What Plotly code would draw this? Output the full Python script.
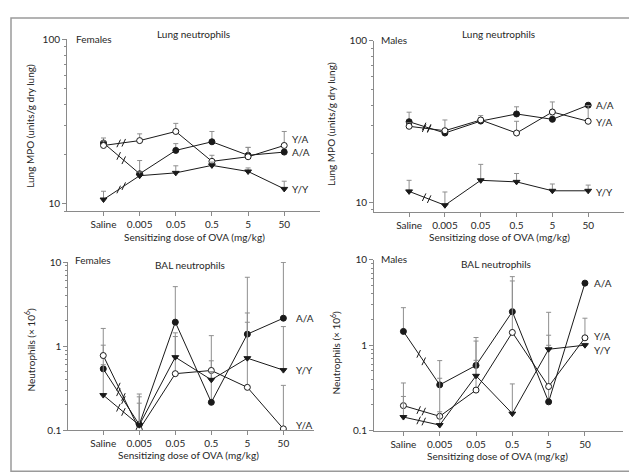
import math
import plotly.graph_objects as go

# ---------------- data ----------------
doses = ["Saline", "0.005", "0.05", "0.5", "5", "50"]
groups = ["A/A", "Y/A", "Y/Y"]

# Lung MPO (units/g dry lung) – females
f_lung_AA = [23.4, 15.2, 21.1, 23.8, 19.7, 20.6]
f_lung_YA = [22.6, 24.2, 27.5, 18.1, 19.3, 22.6]
f_lung_YY = [10.6, 14.8, 15.4, 17.1, 15.7, 12.3]
f_lung_AA_err = [1.7, 3.1, 2.1, 3.7, 2.3, 0.8]
f_lung_YA_err = [1.5, 2.4, 3.3, 1.6, 2.7, 4.9]
f_lung_YY_err = [1.3, 0.8, 1.6, 0.8, 0.8, 1.4]

# Lung MPO (units/g dry lung) – males
m_lung_AA = [31.6, 26.9, 31.9, 35.3, 32.7, 40.0]
m_lung_YA = [29.6, 27.8, 32.4, 26.9, 36.3, 31.8]
m_lung_YY = [11.7, 9.6, 13.7, 13.4, 11.8, 11.8]
m_lung_AA_err = [4.6, 1.0, 1.6, 3.8, 1.5, 1.0]
m_lung_YA_err = [1.5, 4.6, 2.1, 4.9, 5.6, 8.0]
m_lung_YY_err = [2.0, 2.0, 3.5, 1.7, 1.2, 1.0]

# BAL neutrophils (x 10^6) – females
f_bal_AA = [0.537, 0.117, 1.93, 0.215, 1.39, 2.15]
f_bal_YA = [0.774, 0.102, 0.471, 0.514, 0.324, 0.104]
f_bal_YY = [0.262, 0.115, 0.74, 0.398, 0.72, 0.519]
f_bal_AA_err = [0.49, 0.153, 3.17, 0.455, 5.2, 7.75]
f_bal_YA_err = [0.85, 0.108, 0.83, 0.82, 1.6, 0.238]
f_bal_YY_err = [0.34, 0.135, 0.70, 0.1, 1.76, 1.19]

# BAL neutrophils (x 10^6) – males
m_bal_AA = [1.45, 0.343, 0.58, 2.47, 0.217, 5.33]
m_bal_YA = [0.196, 0.147, 0.298, 1.41, 0.328, 1.22]
m_bal_YY = [0.144, 0.116, 0.438, 0.158, 0.896, 1.0]
m_bal_AA_err = [1.3, 0.317, 0.65, 3.88, 0.78, 0.1]
m_bal_YA_err = [0.165, 0.263, 0.367, 4.24, 0.98, 0.85]
m_bal_YY_err = [0.107, 0.05, 0.68, 0.194, 1.53, 0.05]

lung_ticks = [10, 100]
lung_ticktext = ["10", "100"]
bal_ticks = [0.1, 1, 10]
bal_ticktext = ["0.1", "1", "10"]

# ---------------- layout helpers ----------------
W, H = 637, 474
def px(x):
    return x / W
def py(y):
    return 1 - y / H

FONT = "Lato, 'Open Sans', sans-serif"
AXIS_GRAY = "#8a8a8a"
TEXT = "#262626"
LINE = "#1a1a1a"
ERR = "#8f8f8f"

styles = {
    "A/A": dict(symbol="circle", color=LINE, line=dict(color=LINE, width=1)),
    "Y/A": dict(symbol="circle", color="white", line=dict(color=LINE, width=1)),
    "Y/Y": dict(symbol="triangle-down", color=LINE, line=dict(color=LINE, width=1)),
}

panels = [
    dict(sex="Females", title="Lung neutrophils", ytitle="Lung MPO (units/g dry lung)",
         series={"A/A": (f_lung_AA, f_lung_AA_err), "Y/A": (f_lung_YA, f_lung_YA_err),
                 "Y/Y": (f_lung_YY, f_lung_YY_err)},
         lab_shift={"A/A": 0, "Y/A": 6, "Y/Y": 0},
         xd=(59, 312), yd=(25, 202), xr=(-1.01, 5.99), yr=(0.9527, 2.0),
         ticks=lung_ticks, ticktext=lung_ticktext,
         sex_xy=(66, 25), title_xy=(185, 20), xt_xy=(186, 228), yt_xy=(22, 114), lab_dx=6),
    dict(sex="Males", title="Lung neutrophils", ytitle="Lung MPO (units/g dry lung)",
         series={"A/A": (m_lung_AA, m_lung_AA_err), "Y/A": (m_lung_YA, m_lung_YA_err),
                 "Y/Y": (m_lung_YY, m_lung_YY_err)},
         lab_shift={"A/A": 0, "Y/A": -1, "Y/Y": -1},
         xd=(366, 616), yd=(26.7, 202.3), xr=(-0.98, 6.0), yr=(0.942, 2.0),
         ticks=lung_ticks, ticktext=lung_ticktext,
         sex_xy=(371, 26), title_xy=(490, 20), xt_xy=(491, 228), yt_xy=(323, 112), lab_dx=6),
    dict(sex="Females", title="BAL neutrophils", ytitle="Neutrophils (× 10<sup>6</sup>)",
         series={"A/A": (f_bal_AA, f_bal_AA_err), "Y/A": (f_bal_YA, f_bal_YA_err),
                 "Y/Y": (f_bal_YY, f_bal_YY_err)},
         lab_shift={"A/A": 0, "Y/A": 4, "Y/Y": 0},
         xd=(60.3, 306), yd=(254, 427), xr=(-0.97, 5.85), yr=(-1, 1),
         ticks=bal_ticks, ticktext=bal_ticktext,
         sex_xy=(65, 252), title_xy=(182, 257), xt_xy=(181, 452), yt_xy=(22, 344), lab_dx=11),
    dict(sex="Males", title="BAL neutrophils", ytitle="Neutrophils (× 10<sup>6</sup>)",
         series={"A/A": (m_bal_AA, m_bal_AA_err), "Y/A": (m_bal_YA, m_bal_YA_err),
                 "Y/Y": (m_bal_YY, m_bal_YY_err)},
         lab_shift={"A/A": 0, "Y/A": 2, "Y/Y": -5},
         xd=(366, 614.7), yd=(251.7, 427.3), xr=(-0.81, 6.04), yr=(-1, 1),
         ticks=bal_ticks, ticktext=bal_ticktext,
         sex_xy=(371, 251), title_xy=(488, 256), xt_xy=(489, 453), yt_xy=(327, 347), lab_dx=7),
]

fig = go.Figure()
annotations = []
xcat = list(range(len(doses)))

for i, p in enumerate(panels, start=1):
    xa = "x" if i == 1 else f"x{i}"
    ya = "y" if i == 1 else f"y{i}"
    for g in groups:
        vals, err = p["series"][g]
        st = styles[g]
        fig.add_trace(go.Scatter(
            x=xcat, y=vals, xaxis=xa, yaxis=ya, mode="lines+markers",
            line=dict(color=LINE, width=1),
            marker=dict(symbol=st["symbol"], color=st["color"], size=6, line=st["line"]),
            error_y=dict(type="data", symmetric=False, array=err, arrayminus=[0] * len(err),
                         color=ERR, thickness=1, width=2.5),
            showlegend=False, hoverinfo="skip"))
        # axis-break marks on the Saline -> first dose segment
        bx, by = [], []
        l0, l1 = math.log10(vals[0]), math.log10(vals[1])
        for t in (0.42, 0.56):
            bx.append(xcat[0] + t * (xcat[1] - xcat[0]))
            by.append(10 ** (l0 + t * (l1 - l0)))
        fig.add_trace(go.Scatter(
            x=bx, y=by, xaxis=xa, yaxis=ya, mode="markers",
            marker=dict(symbol="line-ns", size=6, angle=25, color=LINE,
                        line=dict(color=LINE, width=1)),
            showlegend=False, hoverinfo="skip"))
        annotations.append(dict(
            x=xcat[-1], y=math.log10(vals[-1]), xref=xa, yref=ya, text=g,
            showarrow=False, xanchor="left", xshift=p["lab_dx"], yshift=p["lab_shift"][g],
            font=dict(family=FONT, size=10, color=TEXT)))

    minor_vals = []
    lo, hi = p["yr"]
    for d in range(math.floor(lo), math.ceil(hi)):
        for m in range(2, 10):
            v = m * 10 ** d
            if lo <= math.log10(v) <= hi:
                minor_vals.append(v)

    fig.update_layout({
        ("xaxis" if i == 1 else f"xaxis{i}"): dict(
            domain=[px(p["xd"][0]), px(p["xd"][1])], anchor=ya, range=list(p["xr"]),
            tickvals=xcat, ticktext=doses, ticks="outside", ticklen=4, tickcolor=AXIS_GRAY,
            showline=True, linecolor=AXIS_GRAY, linewidth=1, showgrid=False, zeroline=False,
            tickfont=dict(family=FONT, size=10, color=TEXT), fixedrange=True),
        ("yaxis" if i == 1 else f"yaxis{i}"): dict(
            domain=[py(p["yd"][1]), py(p["yd"][0])], anchor=xa, type="log", range=list(p["yr"]),
            tickvals=p["ticks"], ticktext=p["ticktext"], ticks="outside", ticklen=4,
            tickcolor=AXIS_GRAY, showline=True, linecolor=AXIS_GRAY, linewidth=1,
            showgrid=False, zeroline=False,
            minor=dict(tickvals=minor_vals, ticks="outside", ticklen=2, tickcolor=AXIS_GRAY),
            tickfont=dict(family=FONT, size=10, color=TEXT), fixedrange=True),
    })

    annotations += [
        dict(x=px(p["sex_xy"][0]), y=py(p["sex_xy"][1]), xref="paper", yref="paper",
             text=p["sex"], showarrow=False, xanchor="left", yanchor="middle",
             font=dict(family=FONT, size=10, color=TEXT)),
        dict(x=px(p["title_xy"][0]), y=py(p["title_xy"][1]), xref="paper", yref="paper",
             text=p["title"], showarrow=False, xanchor="center", yanchor="middle",
             font=dict(family=FONT, size=10, color=TEXT)),
        dict(x=px(p["xt_xy"][0]), y=py(p["xt_xy"][1]), xref="paper", yref="paper",
             text="Sensitizing dose of OVA (mg/kg)", showarrow=False, xanchor="center",
             yanchor="middle", font=dict(family=FONT, size=10, color=TEXT)),
        dict(x=px(p["yt_xy"][0]), y=py(p["yt_xy"][1]), xref="paper", yref="paper",
             text=p["ytitle"], showarrow=False, textangle=-90, xanchor="center",
             yanchor="middle", font=dict(family=FONT, size=10, color=TEXT)),
    ]

fig.update_layout(
    width=W, height=H, margin=dict(l=0, r=0, t=0, b=0),
    paper_bgcolor="white", plot_bgcolor="white", showlegend=False,
    annotations=annotations,
    shapes=[dict(type="rect", xref="paper", yref="paper",
                 x0=px(3), x1=px(632), y0=py(469), y1=py(3),
                 line=dict(color="#9a9a9a", width=1.5))],
)

fig.write_html("out.html")
